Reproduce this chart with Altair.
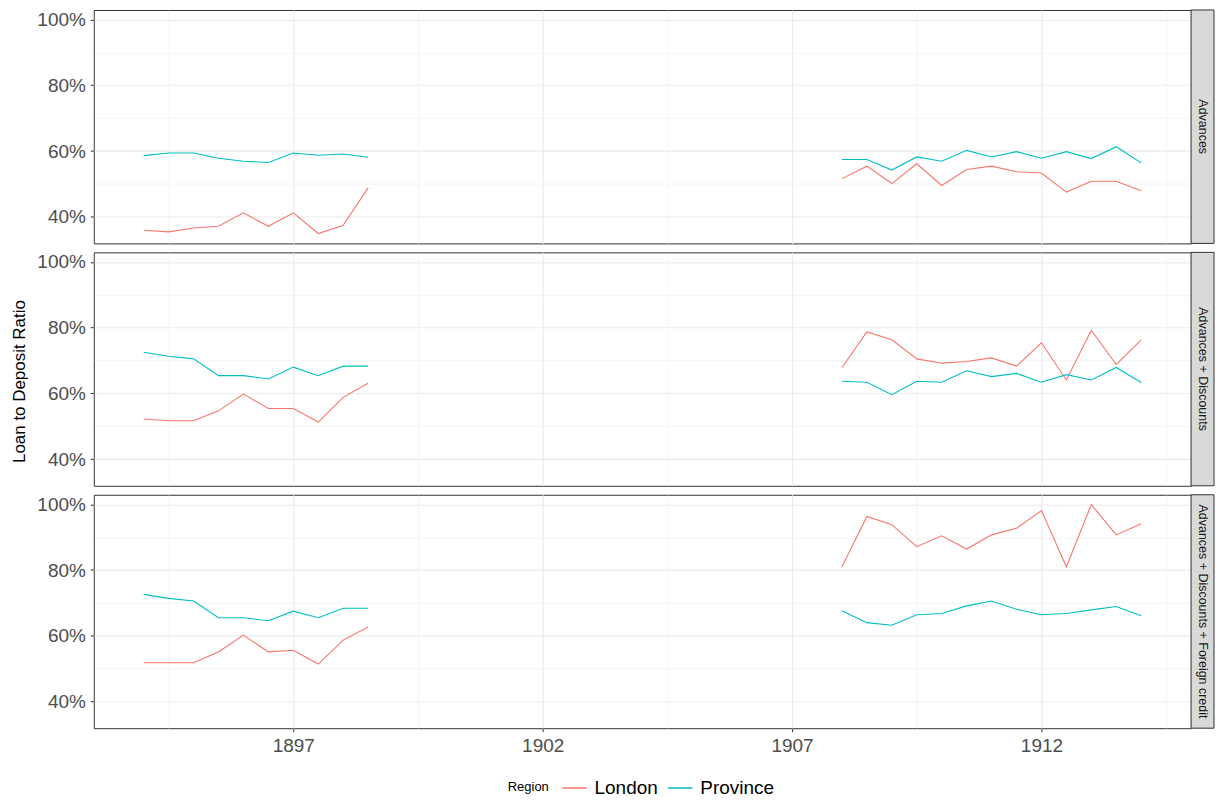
import altair as alt
import pandas as pd

panels = ["Advances", "Advances + Discounts", "Advances + Discounts + Foreign credit"]
regions = ["London", "Province"]

years_early = [1894.0, 1894.5, 1895.0, 1895.5, 1896.0, 1896.5, 1897.0, 1897.5, 1898.0, 1898.5]
years_late = [1908.0, 1908.5, 1909.0, 1909.5, 1910.0, 1910.5, 1911.0, 1911.5, 1912.0, 1912.5, 1913.0, 1913.5, 1914.0]

# Advances
adv_london_early = [35.9, 35.4, 36.6, 37.1, 41.2, 37.1, 41.2, 34.9, 37.4, 48.8]
adv_province_early = [58.6, 59.4, 59.4, 57.8, 56.9, 56.5, 59.4, 58.7, 59.1, 58.1]
adv_london_late = [51.6, 55.4, 50.1, 56.1, 49.5, 54.4, 55.4, 53.7, 53.3, 47.5, 50.8, 50.8, 47.9]
adv_province_late = [57.4, 57.4, 54.2, 58.2, 56.9, 60.2, 58.2, 59.8, 57.8, 59.8, 57.7, 61.3, 56.4]

# Advances + Discounts
ad_london_early = [52.2, 51.7, 51.7, 54.7, 59.8, 55.4, 55.4, 51.3, 58.8, 63.1]
ad_province_early = [72.5, 71.3, 70.5, 65.4, 65.4, 64.4, 68.0, 65.4, 68.3, 68.3]
ad_london_late = [67.9, 78.7, 76.3, 70.5, 69.2, 69.7, 70.8, 68.3, 75.4, 64.1, 79.2, 68.8, 76.3]
ad_province_late = [63.7, 63.4, 59.6, 63.7, 63.4, 66.9, 65.1, 66.1, 63.4, 65.7, 64.1, 67.9, 63.3]

# Advances + Discounts + Foreign credit
adf_london_early = [51.8, 51.8, 51.8, 55.1, 60.2, 55.1, 55.6, 51.4, 58.7, 62.7]
adf_province_early = [72.6, 71.4, 70.6, 65.5, 65.5, 64.6, 67.5, 65.5, 68.4, 68.4]
adf_london_late = [81.0, 96.3, 93.8, 87.1, 90.4, 86.4, 90.7, 92.7, 98.1, 81.0, 99.9, 90.7, 94.1]
adf_province_late = [67.6, 64.0, 63.2, 66.4, 66.8, 69.1, 70.6, 68.1, 66.4, 66.8, 67.9, 68.9, 66.1]

series = {
    panels[0]: {"London": (adv_london_early, adv_london_late),
                "Province": (adv_province_early, adv_province_late)},
    panels[1]: {"London": (ad_london_early, ad_london_late),
                "Province": (ad_province_early, ad_province_late)},
    panels[2]: {"London": (adf_london_early, adf_london_late),
                "Province": (adf_province_early, adf_province_late)},
}

rows = []
for p in panels:
    for r in regions:
        early, late = series[p][r]
        for y, v in zip(years_early, early):
            rows.append({"panel": p, "region": r, "segment": r + "-early", "year": y, "ratio": v})
        for y, v in zip(years_late, late):
            rows.append({"panel": p, "region": r, "segment": r + "-late", "year": y, "ratio": v})
df = pd.DataFrame(rows)

W = 1100
H = 234
STRIP = 23
FONT = "Liberation Sans"

major_x = "datum.value % 5 == 2"
major_y = "datum.value % 20 == 0"


def x_axis(show):
    kw = dict(
        values=[1894.5, 1897, 1899.5, 1902, 1904.5, 1907, 1909.5, 1912, 1914.5],
        title=None,
        gridWidth={"condition": {"test": major_x, "value": 1.1}, "value": 0.55},
        grid=True,
    )
    if show:
        kw.update(
            labelExpr="(datum.value % 5 == 2) ? datum.label : ''",
            tickColor={"condition": {"test": major_x, "value": "#333333"}, "value": "transparent"},
            format="d",
        )
    else:
        kw.update(labels=False, ticks=False)
    return alt.Axis(**kw)


def y_axis(show_title):
    return alt.Axis(
        values=[40, 50, 60, 70, 80, 90, 100],
        title="Loan to Deposit Ratio",
        titleOpacity=1 if show_title else 0,
        titleY=H / 2 + 12,
        labelExpr="(datum.value % 20 == 0) ? datum.value + '%' : ''",
        tickColor={"condition": {"test": major_y, "value": "#333333"}, "value": "transparent"},
        gridWidth={"condition": {"test": major_y, "value": 1.1}, "value": 0.55},
    )


legend = alt.Legend(
    orient="none",
    legendX=415,
    legendY=767,
    direction="horizontal",
    title="Region",
    titleOrient="left",
    titleFontSize=13,
    titleFontWeight="normal",
    titleColor="#000000",
    titleFont=FONT,
    titlePadding=12,
    labelFontSize=19,
    labelFont=FONT,
    labelColor="#000000",
    labelOffset=7,
    columnPadding=6,
    symbolType="stroke",
    symbolSize=600,
    symbolStrokeWidth=1.5,
)


def panel_chart(i, name):
    data = df[df["panel"] == name]
    lines = alt.Chart(data).mark_line(strokeWidth=1.1).encode(
        x=alt.X("year:Q", scale=alt.Scale(domain=[1893, 1915], nice=False, zero=False),
                axis=x_axis(i == 2)),
        y=alt.Y("ratio:Q", scale=alt.Scale(domain=[31.9, 102.9], nice=False, zero=False),
                axis=y_axis(i == 1)),
        color=alt.Color("region:N",
                        scale=alt.Scale(domain=regions, range=["#F8766D", "#00BFC4"]),
                        legend=legend),
        detail="segment:N",
    )
    lab = pd.DataFrame({"label": [name]})
    strip = alt.Chart(lab).mark_rect(fill="#D9D9D9", stroke="#333333", strokeWidth=1).encode(
        x=alt.value(W), x2=alt.value(W + STRIP), y=alt.value(0), y2=alt.value(H)
    )
    text = alt.Chart(lab).mark_text(
        angle=90, font=FONT, fontSize=12.5, color="#1A1A1A", baseline="middle", align="center"
    ).encode(
        text="label:N", x=alt.value(W + STRIP / 2), y=alt.value(H / 2)
    )
    return alt.layer(lines, strip, text).properties(width=W, height=H)


chart = alt.vconcat(
    *[panel_chart(i, p) for i, p in enumerate(panels)], spacing=7
).properties(
    padding={"left": 2, "top": 0, "right": 0, "bottom": 0}
).configure_view(
    stroke="#333333", strokeWidth=1
).configure_axis(
    gridColor="#EBEBEB",
    domain=False,
    tickSize=3.5,
    labelPadding=5,
    labelFont=FONT,
    labelFontSize=19,
    labelColor="#4D4D4D",
    titleFont=FONT,
    titleFontSize=17,
    titleFontWeight="normal",
    titleColor="#000000",
    titlePadding=8,
)

chart.save("out.html", embed_options={"renderer": "svg", "actions": False})
